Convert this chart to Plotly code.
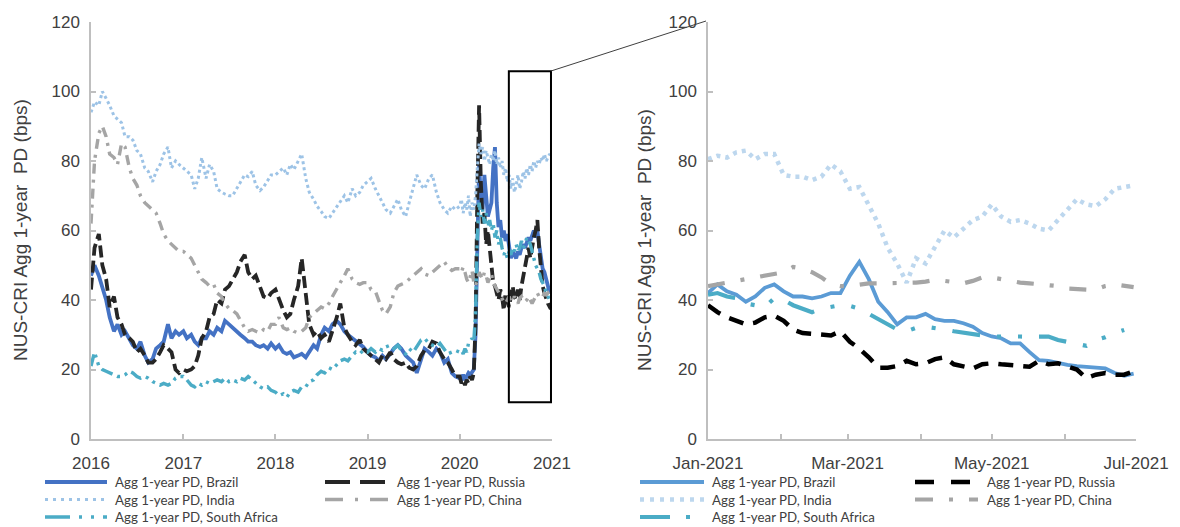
import pandas as pd
import plotly.graph_objects as go

# ---------------- data ----------------
# left panel: semi-monthly 2016-2019, weekly 2020
left_dates = list(pd.date_range("2016-01-01", "2019-12-15", freq="SMS")) + \
             list(pd.date_range("2020-01-01", "2020-12-30", freq="7D"))
# right panel: every 4 days, Jan-Jun 2021
right_dates = list(pd.date_range("2021-01-01", periods=46, freq="4D"))

names = ["Agg 1-year PD, Brazil", "Agg 1-year PD, Russia", "Agg 1-year PD, India",
         "Agg 1-year PD, China", "Agg 1-year PD, South Africa"]

brazil_left = [
    47, 50, 47, 44, 40, 35, 31, 33, 30, 31, 29, 27, 26, 28, 24, 22, 23, 26, 27, 28, 33, 29, 31, 30,
    31, 29, 30, 28, 27, 29, 29, 31, 30, 32, 31, 34, 33, 32, 31, 30, 29, 28, 28, 27, 26.5, 27, 26, 27.5,
    26, 27, 25, 24.5, 25, 23.5, 24, 24.5, 23.5, 25, 27, 26, 30, 32, 31, 33, 34, 33, 31, 30, 29, 28.5, 27.5, 26.5,
    25, 24, 23.5, 22.5, 24, 23, 24.5, 26, 27, 26, 24, 23, 22, 19, 23, 26, 25, 24, 26, 25, 22, 23, 19, 18,
    17.5, 17, 18.5, 17, 18, 19, 18.5, 19.5, 20, 30,
    55, 79, 70, 66, 76, 68, 64, 66, 68, 78,
    84, 68, 61, 63, 58, 60, 57, 59, 55, 52,
    54, 53, 52, 54, 53, 55, 56, 55, 57, 58,
    57, 59, 60, 58, 60, 56, 52, 49, 48, 46,
    44, 42, 43]

russia_left = [
    43, 55, 59, 50, 46, 38, 41, 35, 33, 30, 29, 28, 25, 26, 24, 22, 22, 23, 25, 27, 26, 25, 20, 19,
    20, 19.5, 20, 21, 24, 29, 31, 35, 36, 40, 39, 43, 44, 46, 48, 51, 53, 48, 46, 47, 44, 41, 40.5, 42,
    43, 40, 37, 35, 36, 40, 44, 52, 42, 33, 30, 31, 29, 30, 28, 31, 35, 39, 32, 30, 28, 27, 28.5, 26,
    25, 24, 23, 22, 24, 23, 25, 23, 22, 21.5, 22, 20.5, 20, 21, 24, 25.5, 26, 28, 27.5, 25, 23, 22, 20, 18,
    18, 16, 17, 15.5, 17, 16, 18, 17, 19, 33,
    70, 96, 74, 62, 65, 56, 60, 55, 50, 45,
    44, 42, 40, 43, 41, 37, 42, 40, 38, 41,
    44, 41, 40, 43, 40, 44, 47, 50, 53, 55,
    52, 56, 58, 60, 63, 55, 48, 44, 42, 40,
    39, 38, 38.5]

india_left = [
    94, 97, 96, 100, 98, 96, 93, 92, 91, 87, 87, 86, 83, 82, 78, 77, 74, 77, 79, 82, 84, 78, 80, 79,
    78, 77, 76, 72, 75, 81, 75, 79, 77, 72, 71, 70.5, 70, 70, 72, 74, 76, 75.5, 77, 73, 71.5, 72.5, 74.5, 76,
    76, 77, 78, 76, 79, 77.5, 80, 82, 75, 71, 69, 67, 65.5, 64, 63.5, 65, 66.5, 68, 70, 68, 72, 70, 71, 73,
    74, 75, 72, 70, 68, 66, 65, 67, 69, 66, 64, 68, 72, 76, 73, 72, 75, 76, 71, 68, 66, 65, 67, 66,
    67, 69, 65, 68, 66, 70, 64, 68, 66, 70,
    78, 85, 82, 84, 80, 83, 81, 79, 82, 80,
    83, 79, 81, 78, 80, 76, 78, 74, 76, 72,
    75, 71, 73, 76, 72, 74, 77, 75, 78, 76,
    79, 77, 80, 78, 80, 79, 81, 80, 82, 80,
    81, 82, 81]

china_left = [
    62, 80, 88, 90, 87, 82, 81, 79, 85, 84, 78, 75, 73, 70, 68, 67, 66, 65, 62, 59, 57, 56, 55, 54,
    54, 53, 52, 50, 48, 46, 45, 44, 44.5, 42, 41, 39, 37.5, 37, 36, 34, 32, 31, 31.5, 31, 30.5, 31.5, 31, 33,
    33, 35, 32, 31.5, 32, 31, 30.5, 31, 32, 35, 36, 37, 38, 37.5, 39, 41, 43, 45, 47, 49, 46, 45, 44.5, 45,
    45, 43, 42.5, 40, 37, 36, 38, 42, 44, 44.5, 45, 46, 47, 48, 49, 47.5, 47, 48, 49, 50, 51, 49.5, 48.5, 49,
    49, 48, 49.5, 48, 46, 45, 47, 48.5, 45, 44,
    46, 48, 47, 46, 48, 47, 45, 46, 47.5, 45,
    44, 43, 42, 41, 40, 39.5, 39, 40, 41, 39.5,
    40, 41, 40, 39, 40.5, 41, 40, 39.5, 40, 41,
    40, 39, 40, 41, 42, 41, 40.5, 41, 42, 41.5,
    42, 41, 40]

south_africa_left = [
    21, 25, 21, 20, 19.5, 19, 18.5, 18, 18, 18.5, 19.5, 19, 18, 17.5, 18, 17.5, 16.5, 16, 15.5, 16, 15.5, 16, 17.5, 18,
    18, 17, 15.5, 15, 16, 15.5, 16.5, 16, 16.5, 17, 16.5, 17.5, 16.5, 17, 16.5, 17.5, 17, 18, 17, 16, 15, 14.5, 15, 14,
    13.5, 12.5, 13, 12, 13.5, 14, 13.5, 15, 15, 16.5, 17, 18.5, 19.5, 19, 20.5, 20, 21.5, 22.5, 23, 22.5, 24, 25, 24.5, 25.5,
    25, 26, 25, 26, 25.5, 26.5, 27, 26, 27, 25.5, 24.5, 26, 25, 26.5, 28.5, 29, 27.5, 27, 26.5, 27.5, 26, 24.5, 25, 25.5,
    25, 25.5, 24.5, 26, 25, 27.5, 28, 29, 28, 36,
    58, 68, 64, 66, 62, 65, 61, 63, 60, 62,
    58, 60, 56, 58, 55, 53, 54, 52, 54, 53,
    55, 54, 56, 54, 55, 57, 55, 56, 58, 57,
    56, 54, 52, 50, 49, 48, 46, 45, 44, 42,
    41, 40, 41]

brazil_right = [42, 44.5, 42.5, 41.5, 39.5, 41, 43.5, 44.5, 42.5, 41,
                41, 40.5, 41, 42, 42, 47, 51, 46, 39.5, 36.5,
                33, 35, 35, 36, 34.5, 34, 34, 33.3, 32.3, 30.5,
                29.5, 29, 27.5, 27.5, 25, 22.7, 22.5, 21.8, 21.3, 21,
                20.8, 20.5, 20.3, 19, 18.2, 18.8]
russia_right = [38.5, 36.5, 35, 34, 33, 33.5, 35, 35.5, 34, 31.5,
                30.5, 30.3, 30, 29.8, 31, 28, 26, 23.5, 20.5, 20.5,
                21, 22.5, 21.5, 21.8, 23, 23.5, 21.5, 21, 20.3, 21.5,
                21.8, 21.5, 21.3, 21, 20.8, 22.5, 21.5, 21.8, 21, 20,
                17.5, 18.5, 19, 18.5, 18.5, 19.5]
india_right = [80.5, 81.5, 81, 82.5, 83, 80.5, 82, 82, 76, 75.5,
               75.5, 74.5, 75.5, 79, 77, 72, 72.5, 67, 62, 55,
               50.5, 45, 52, 50.5, 55, 60, 58, 60.5, 63, 64,
               67.5, 64, 62.5, 63, 62, 60.5, 60, 63, 66, 69,
               67.5, 67, 69, 72, 72.5, 73]
china_right = [44, 44.5, 45, 45.5, 46, 46.5, 47, 47.5, 48, 49.5,
               49, 48, 46.5, 44.5, 44, 44, 44.5, 44.8, 44.8, 44.8,
               44.8, 44.8, 45, 45.3, 45.8, 45.5, 45, 44.8, 45.5, 46.5,
               46.5, 46, 45.3, 45, 44.8, 44.6, 44.3, 44, 43.3, 43,
               43, 43, 44, 44.5, 44, 43.7]
south_africa_right = [41.5, 42, 41, 40.5, 39, 38.5, 38, 40.5, 40, 38.5,
                      37.5, 36.5, 37.5, 38, 38.5, 38.3, 37.5, 36, 34.5, 33,
                      31.5, 31, 32, 32.3, 32, 31.5, 31, 30.5, 30, 29.8,
                      29.5, 29.5, 29.8, 29.5, 29.4, 29.5, 29.5, 28.5, 28, 27.5,
                      26.8, 28.5, 29.3, 30.5, 31.4, None]

left_tick_vals = ["2016-01-01", "2017-01-01", "2018-01-01", "2019-01-01", "2020-01-01", "2021-01-01"]
left_tick_text = ["2016", "2017", "2018", "2019", "2020", "2021"]
right_tick_vals = ["2021-01-01", "2021-02-01", "2021-03-01", "2021-04-01", "2021-05-01", "2021-06-01", "2021-07-01"]
right_tick_text = ["Jan-2021", "", "Mar-2021", "", "May-2021", "", "Jul-2021"]
y_title = "NUS-CRI Agg 1-year \u00a0PD (bps)"

# ---------------- figure ----------------
W, H = 1180, 527
def px_x(p): return p / W
def px_y(p): return 1 - p / H

fig = go.Figure()

# styles: (trace line, legend-sample line)
left_styles = [
    (dict(color="#4472C4", width=3.8), dict(dash="solid")),
    (dict(color="#262626", width=3.8, dash="12px,5px"), dict(dash="25px,10px")),
    (dict(color="#9DC3E6", width=3, dash="3px,3px"), dict(dash="3px,5px")),
    (dict(color="#A5A5A5", width=3.4, dash="10px,6px,3px,6px"), dict(dash="18px,12px,3px,12px")),
    (dict(color="#4BACC6", width=3.4, dash="12px,5px,3px,5px,3px,5px"), dict(dash="25px,9px,3px,9px,3px,9px")),
]
right_styles = [
    (dict(color="#5B9BD5", width=3.8), dict(dash="solid")),
    (dict(color="#000000", width=4.5, dash="15px,10px"), dict(dash="19px,17px")),
    (dict(color="#BDD7EE", width=4.5, dash="4px,5px"), dict(dash="4px,6px")),
    (dict(color="#A5A5A5", width=4.2, dash="17px,16px,4px,16px"), dict(dash="18px,16px,4px,16px")),
    (dict(color="#4BACC6", width=4.2, dash="28px,17px,4px,17px,4px,17px"), dict(dash="30px,16px,4px,16px")),
]
left_values = [brazil_left, russia_left, india_left, china_left, south_africa_left]
right_values = [brazil_right, russia_right, india_right, china_right, south_africa_right]

for vals, (ln, _), n in zip(left_values, left_styles, names):
    fig.add_trace(go.Scatter(x=left_dates, y=vals, name=n, mode="lines", line=ln,
                             xaxis="x", yaxis="y", showlegend=False))
for vals, (ln, _), n in zip(right_values, right_styles, names):
    fig.add_trace(go.Scatter(x=right_dates, y=vals, name=n, mode="lines", line=ln,
                             xaxis="x2", yaxis="y2", showlegend=False, connectgaps=False))

# ---- legends drawn as sample lines + text (two columns per panel) ----
legend_rows = [482, 499.5, 517]
# series index -> (column, row)
legend_slots = {0: (0, 0), 1: (1, 0), 2: (0, 1), 3: (1, 1), 4: (0, 2)}
left_cols = [(45, 107, 113), (325, 390, 395)]     # sample start, sample end, text start
right_cols = [(640, 704, 710), (915, 978, 985)]
legend_font = dict(family="Lato, sans-serif", size=13.3, color="#404040")

shapes = []
annotations = []
for styles, cols in ((left_styles, left_cols), (right_styles, right_cols)):
    for i, n in enumerate(names):
        c, r = legend_slots[i]
        x0, x1, xt = cols[c]
        yy = px_y(legend_rows[r])
        ln, sample = styles[i]
        shapes.append(dict(type="line", xref="paper", yref="paper", x0=px_x(x0), x1=px_x(x1), y0=yy, y1=yy,
                           line=dict(color=ln["color"], width=ln["width"], dash=sample["dash"])))
        annotations.append(dict(text=n, x=px_x(xt), y=yy, xref="paper", yref="paper", showarrow=False,
                                xanchor="left", yanchor="middle", font=legend_font))

title_font = dict(family="Liberation Sans, Arial, sans-serif", size=19, color="#404040")
annotations += [
    dict(text=y_title, x=px_x(20), y=px_y(230), xref="paper", yref="paper", textangle=-90,
         showarrow=False, xanchor="center", yanchor="middle", font=title_font),
    dict(text=y_title, x=px_x(645), y=px_y(240), xref="paper", yref="paper", textangle=-90,
         showarrow=False, xanchor="center", yanchor="middle", font=title_font),
]
shapes += [
    dict(type="rect", xref="x", yref="y", x0="2020-07-14", x1="2020-12-28", y0=10.6, y1=105.8,
         line=dict(color="black", width=2), fillcolor="rgba(0,0,0,0)"),
    dict(type="line", xref="paper", yref="paper", x0=px_x(551), y0=px_y(71), x1=px_x(706), y1=px_y(21),
         line=dict(color="#404040", width=1)),
]

axis_col = "#BFBFBF"
tick_font = dict(family="Liberation Sans, Arial, sans-serif", size=17, color="#404040")
common_x = dict(type="date", showgrid=False, zeroline=False, showline=True, linecolor=axis_col,
                linewidth=1.5, ticks="inside", ticklen=5, tickcolor=axis_col, tickwidth=1.5,
                tickfont=tick_font, tickmode="array", ticklabelstandoff=8)
common_y = dict(range=[0, 120], tickmode="linear", tick0=0, dtick=20, showgrid=False, zeroline=False,
                showline=True, linecolor=axis_col, linewidth=1.5, ticks="inside", ticklen=5,
                tickcolor=axis_col, tickwidth=1.5, tickfont=tick_font, ticklabelstandoff=6)

fig.update_layout(
    width=W, height=H, template="none",
    paper_bgcolor="white", plot_bgcolor="white",
    margin=dict(l=0, r=0, t=0, b=0),
    showlegend=False,
    xaxis=dict(common_x, domain=[px_x(91), px_x(552)], range=["2016-01-01", "2021-01-01"],
               tickvals=left_tick_vals, ticktext=left_tick_text, anchor="y"),
    yaxis=dict(common_y, domain=[px_y(439), px_y(22)], anchor="x"),
    xaxis2=dict(common_x, domain=[px_x(708), px_x(1136)], range=["2021-01-01", "2021-07-01"],
                tickvals=right_tick_vals, ticktext=right_tick_text, anchor="y2"),
    yaxis2=dict(common_y, domain=[px_y(439), px_y(22)], anchor="x2"),
    annotations=annotations,
    shapes=shapes,
)

fig.write_html("out.html")
